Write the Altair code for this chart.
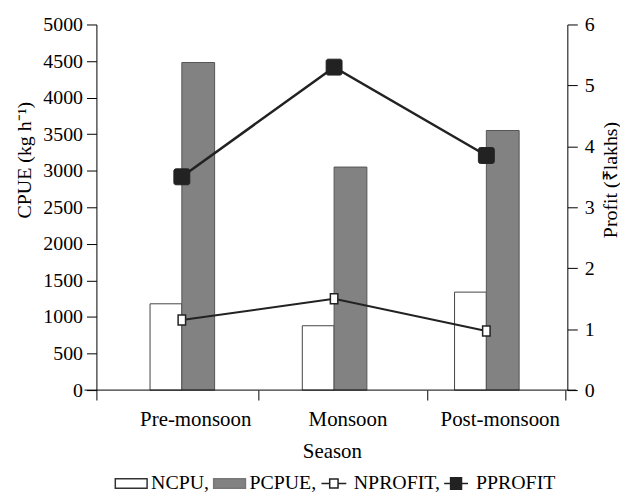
import altair as alt
import pandas as pd

# ---- data ----
seasons = ["Pre-monsoon", "Monsoon", "Post-monsoon"]
season_index = [0, 1, 2]
ncpu = [1180, 880, 1340]
pcpue = [4480, 3050, 3550]
nprofit = [1.15, 1.50, 0.97]
pprofit = [3.50, 5.30, 3.85]
series = ["NCPU", "PCPUE", "NPROFIT", "PPROFIT"]
cpue_ticks = [0, 500, 1000, 1500, 2000, 2500, 3000, 3500, 4000, 4500, 5000]
profit_ticks = [0, 1, 2, 3, 4, 5, 6]
season_tick_pos = [-0.561, 0.502, 1.612, 2.52]

df = pd.DataFrame({
    "Season": seasons,
    "pos": season_index,
    "NCPU": ncpu,
    "PCPUE": pcpue,
    "NPROFIT": nprofit,
    "PPROFIT": pprofit,
})

W, H = 474, 368
FONT = "Liberation Serif"
FS = 20
FT = 21
GRAY = "#828282"
DARK = "#222222"

x_def = alt.X(
    "pos:Q",
    scale=alt.Scale(domain=[-0.561, 2.532], nice=False, zero=False, padding=0),
    axis=alt.Axis(
        values=season_tick_pos, labels=False, domain=False, grid=False,
        ticks=True, tickSize=10, tickColor="black",
        title="Season", titlePadding=40, titleFontSize=FT, titleFont=FONT,
        titleFontWeight="normal", titleColor="black",
    ),
)

left_axis = alt.Axis(
    values=cpue_ticks, format="d", grid=False, tickSize=10, labelPadding=4,
    labelFont=FONT, labelFontSize=FS, labelColor="black",
    title="CPUE (kg h\u207b\u00b9)", titlePadding=8, titleY=136,
    titleFont=FONT, titleFontSize=FS, titleFontWeight="normal", titleColor="black",
)
right_axis = alt.Axis(
    values=profit_ticks, format="d", orient="right", grid=False, tickSize=10, labelPadding=7,
    labelFont=FONT, labelFontSize=FS, labelColor="black",
    title="Profit (\u20b9lakhs)", titlePadding=6, titleY=156, titleAngle=270,
    titleBaseline="top", titleAlign="center",
    titleFont=FONT, titleFontSize=FS, titleFontWeight="normal", titleColor="black",
)
y_left_scale = alt.Scale(domain=[0, 5000], nice=False)
y_right_scale = alt.Scale(domain=[0, 6], nice=False)

base = alt.Chart(df)

bar_n = base.mark_bar(width=32, xOffset=-16, fill="white", stroke="#444444", strokeWidth=1).encode(
    x=x_def, y=alt.Y("NCPU:Q", scale=y_left_scale, axis=left_axis)
)
bar_p = base.mark_bar(width=33, xOffset=16.5, fill=GRAY, stroke="#555555", strokeWidth=1).encode(
    x=x_def, y=alt.Y("PCPUE:Q", scale=y_left_scale, axis=left_axis)
)
domain_rule = alt.Chart(pd.DataFrame({"k": [0]})).mark_rule(color="black", strokeWidth=1).encode(
    x=alt.value(-12), x2=alt.value(W + 9), y=alt.value(H)
)
season_text = base.mark_text(
    font=FONT, fontSize=FT, color="black", baseline="middle", align="center", dx=14
).encode(x=x_def, y=alt.value(H + 30), text="Season:N")

left = alt.layer(bar_n, bar_p, domain_rule, season_text)

line_n = base.mark_line(color=DARK, strokeWidth=2).encode(
    x=x_def, y=alt.Y("NPROFIT:Q", scale=y_right_scale, axis=right_axis)
)
line_p = base.mark_line(color=DARK, strokeWidth=2.5).encode(
    x=x_def, y=alt.Y("PPROFIT:Q", scale=y_right_scale, axis=right_axis)
)
open_sq = "M-0.75,-1H0.75V1H-0.75Z"
round_sq = ("M-0.75,-1H0.75A0.25,0.25 0 0 1 1,-0.75V0.75A0.25,0.25 0 0 1 0.75,1"
            "H-0.75A0.25,0.25 0 0 1 -1,0.75V-0.75A0.25,0.25 0 0 1 -0.75,-1Z")
pt_n = base.mark_point(shape=open_sq, filled=True, fill="white", stroke=DARK,
                       strokeWidth=1.5, size=100, opacity=1).encode(
    x=x_def, y=alt.Y("NPROFIT:Q", scale=y_right_scale, axis=right_axis)
)
pt_p = base.mark_point(shape=round_sq, filled=True, fill=DARK, stroke=DARK,
                       strokeWidth=1, size=256, opacity=1).encode(
    x=x_def, y=alt.Y("PPROFIT:Q", scale=y_right_scale, axis=right_axis)
)

# legend carrier (hidden marks, legend only); nominal symbol box 20px, drawn wider
rect_path = "M-1.6,-0.48H1.6V0.48H-1.6Z"
open_line = "M-1.25,0H-0.42M0.42,0H1.25M-0.42,-0.46H0.42V0.46H-0.42Z"
fill_line = "M-1.2,0H-0.55M0.55,0H1.2M-0.55,-0.58H0.55V0.58H-0.55Z"
legend_shapes = [rect_path, rect_path, open_line, fill_line]
legend_fills = ["white", GRAY, "white", DARK]
legend_strokes = ["#333333", "#777777", DARK, DARK]

leg = alt.Legend(
    title=None, orient="none", direction="horizontal", columns=4,
    legendX=24, legendY=451, symbolSize=400,
    symbolStrokeWidth=1.5, labelFont=FONT, labelFontSize=FS, labelColor="black",
    labelOffset=9, columnPadding=1,
    labelExpr="datum.label == 'PPROFIT' ? datum.label : datum.label + ','",
)
legend_layer = alt.Chart(pd.DataFrame({"series": series})).mark_point(
    clip=True, filled=True, strokeWidth=1.5, opacity=1
).encode(
    x=alt.value(-400), y=alt.value(-400),
    shape=alt.Shape("series:N", scale=alt.Scale(domain=series, range=legend_shapes), legend=leg),
    fill=alt.Fill("series:N", scale=alt.Scale(domain=series, range=legend_fills), legend=leg),
    stroke=alt.Stroke("series:N", scale=alt.Scale(domain=series, range=legend_strokes), legend=leg),
)

right = alt.layer(line_n, line_p, pt_n, pt_p, legend_layer)

chart = alt.layer(left, right).resolve_scale(y="independent").properties(
    width=W, height=H,
    padding={"left": 7, "top": 5, "right": 0, "bottom": 0},
).configure_view(stroke=None).configure_axis(
    labelFont=FONT, labelFontSize=FS, labelColor="black",
    titleFont=FONT, titleFontSize=FS, titleColor="black", titleFontWeight="normal",
    domainColor="black", tickColor="black", domainWidth=1, tickWidth=1,
)

chart.save("out.html", embed_options={"renderer": "svg", "actions": False})
